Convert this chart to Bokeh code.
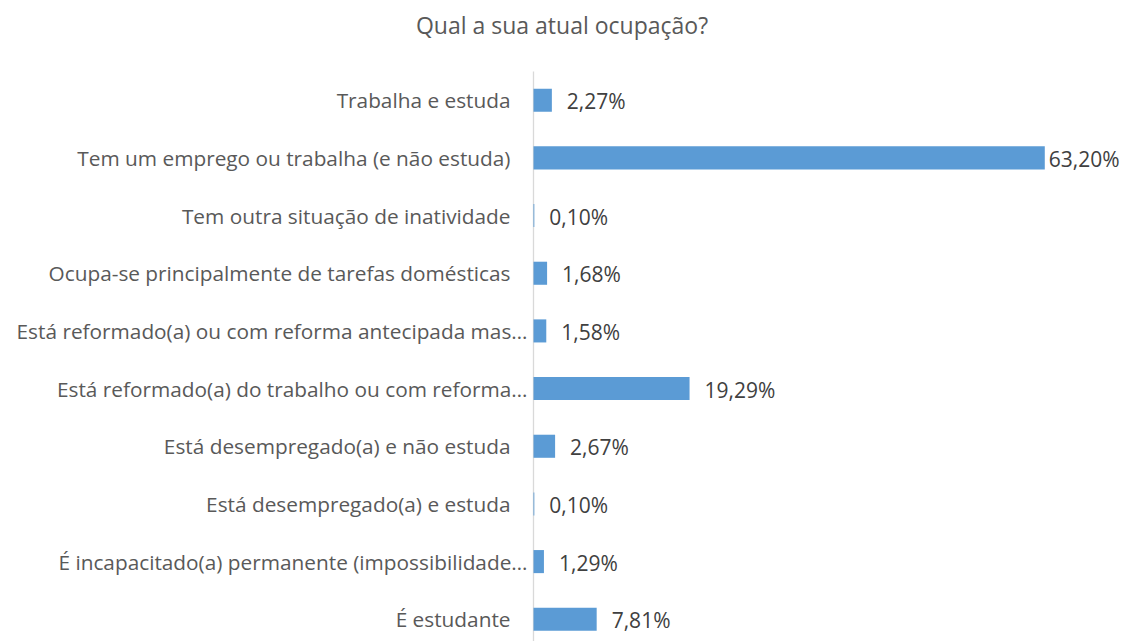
from bokeh.plotting import figure
from bokeh.models import ColumnDataSource, Range1d
from bokeh.core.properties import value
from bokeh.embed import file_html
from bokeh.resources import INLINE

title = "Qual a sua atual ocupação?"
categories = [
    "Trabalha e estuda",
    "Tem um emprego ou trabalha (e não estuda)",
    "Tem outra situação de inatividade",
    "Ocupa-se principalmente de tarefas domésticas",
    "Está reformado(a) ou com reforma antecipada mas…",
    "Está reformado(a) do trabalho ou com reforma…",
    "Está desempregado(a) e não estuda",
    "Está desempregado(a) e estuda",
    "É incapacitado(a) permanente (impossibilidade…",
    "É estudante",
]
values = [2.27, 63.20, 0.10, 1.68, 1.58, 19.29, 2.67, 0.10, 1.29, 7.81]

FONT = value("Open Sans")
BAR = "#5B9BD5"

W, H = 1128, 641
x0px = 533.0          # pixel position of value 0
scale = 8.09          # pixels per percent
band = 57.67          # pixels per category
top_px = 70.9         # top edge of first band

idx = list(range(len(categories)))
vmax = max(values)
src = ColumnDataSource(dict(
    y=idx,
    v=values,
    cat=categories,
    zero=[0] * len(values),
    lab=[f"{v:.2f}".replace(".", ",") + "%" for v in values],
    voff=[4 if v == vmax else 15 for v in values],
    coff=[-6 if c.endswith("…") else -23 for c in categories],
))

p = figure(width=W, height=H, output_backend="svg", toolbar_location=None,
           x_range=Range1d(-x0px / scale, (W - x0px) / scale),
           y_range=Range1d(-0.5 + (H - top_px) / band, -0.5 - top_px / band),
           min_border=0, x_axis_location=None, y_axis_location=None)
p.outline_line_color = None
p.xgrid.visible = False
p.ygrid.visible = False
p.background_fill_color = "white"

# vertical axis line
p.segment(x0=[0], y0=[-0.5], x1=[0], y1=[-0.5 + (H - top_px) / band],
          line_color="#D9D9D9", line_width=1.3)

p.hbar(y="y", right="v", left=0, height=0.4, source=src, color=BAR, line_color=None)

p.text(x="v", y="y", text="lab", source=src, x_offset="voff", y_offset=1,
       text_baseline="middle", text_align="left",
       text_font=FONT, text_font_size="21px", text_color="#404040")
p.text(x="zero", y="y", text="cat", source=src, x_offset="coff",
       text_baseline="middle", text_align="right",
       text_font=FONT, text_font_size="20.8px", text_color="#595959")

p.text(x=[(561.5 - x0px) / scale], y=[-0.5 - (top_px - 24) / band], text=[title],
       text_align="center", text_baseline="middle",
       text_font=FONT, text_font_size="23px", text_color="#595959")

open("out.html", "w").write(file_html(p, INLINE))
